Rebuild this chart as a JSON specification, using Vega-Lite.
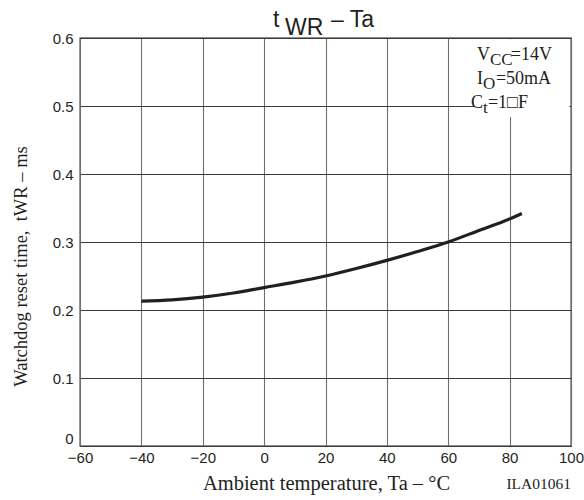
{
  "$schema": "https://vega.github.io/schema/vega-lite/v6.json",
  "autosize": {"type": "none"},
  "padding": {"left": 80, "top": 38, "right": 13, "bottom": 54},
  "width": 491,
  "height": 408,
  "background": "white",
  "config": {
    "view": {"stroke": "#231f20", "strokeWidth": 1.3},
    "axis": {
      "labelFont": "Liberation Sans",
      "labelFontSize": 15,
      "labelColor": "#231f20",
      "labelFlush": false,
      "ticks": false,
      "domain": false,
      "gridOpacity": 1,
      "gridWidth": 1.1,
      "titleFont": "Liberation Serif",
      "titleFontSize": 18.5,
      "titleFontWeight": "normal",
      "titleColor": "#231f20"
    }
  },
  "datasets": {
    "curve": [
      {"Ta": -40, "tWR": 0.213},
      {"Ta": -30, "tWR": 0.215},
      {"Ta": -20, "tWR": 0.219},
      {"Ta": -10, "tWR": 0.225},
      {"Ta": 0, "tWR": 0.233},
      {"Ta": 10, "tWR": 0.241},
      {"Ta": 20, "tWR": 0.25},
      {"Ta": 30, "tWR": 0.261},
      {"Ta": 40, "tWR": 0.273},
      {"Ta": 50, "tWR": 0.286},
      {"Ta": 60, "tWR": 0.3},
      {"Ta": 70, "tWR": 0.317},
      {"Ta": 80, "tWR": 0.334},
      {"Ta": 84, "tWR": 0.342}
    ],
    "annot": [
      {"x": 69.36, "y": 0.5676, "text": "V"},
      {"x": 80.4, "y": 0.5676, "text": "=14V"},
      {"x": 69.36, "y": 0.5324, "text": "I"},
      {"x": 75.55, "y": 0.5324, "text": "=50mA"},
      {"x": 67.4, "y": 0.4971, "text": "C"},
      {"x": 72.94, "y": 0.4971, "text": "=1□F"}
    ],
    "annotSub": [
      {"x": 73.6, "y": 0.5676, "text": "CC"},
      {"x": 71.31, "y": 0.5324, "text": "O"},
      {"x": 71.31, "y": 0.4971, "text": "t"}
    ],
    "title": [
      {"x": 2.89, "y": 0.6162, "text": "t"},
      {"x": 21.8, "y": 0.6162, "text": "– Ta"}
    ],
    "titleSub": [
      {"x": 6.8, "y": 0.6162, "text": "WR"}
    ]
  },
  "layer": [
    {
      "data": {"values": [{"x1": 68.4, "x2": 99.5, "y1": 0.484, "y2": 0.598}]},
      "mark": {"type": "rect", "fill": "white"},
      "encoding": {
        "x": {
          "field": "x1", "type": "quantitative",
          "scale": {"domain": [-60, 100], "nice": false, "zero": false},
          "axis": {
            "values": [-60, -40, -20, 0, 20, 40, 60, 80, 100],
            "grid": true,
            "gridColor": "#707070",
            "labelPadding": 4,
            "title": "Ambient temperature, Ta – °C",
            "titleFontSize": 20.5,
            "titleBaseline": "alphabetic",
            "titleY": 43,
            "titleX": 246
          }
        },
        "x2": {"field": "x2"},
        "y": {
          "field": "y1", "type": "quantitative",
          "scale": {"domain": [0, 0.6], "nice": false},
          "axis": {
            "values": [0, 0.1, 0.2, 0.3, 0.4, 0.5, 0.6],
            "format": "~g",
            "grid": true,
            "gridColor": "#3a3a3a",
            "labelPadding": 7,
            "labelBaseline": {"condition": {"test": "datum.value == 0", "value": "bottom"}, "value": "middle"},
            "title": "Watchdog reset time,\u00a0 tWR – ms",
            "titleX": -50,
            "titleY": 228
          }
        },
        "y2": {"field": "y2"}
      }
    },
    {
      "data": {"name": "curve"},
      "mark": {"type": "line", "color": "#231f20", "strokeWidth": 3.2, "interpolate": "monotone"},
      "encoding": {
        "x": {"field": "Ta", "type": "quantitative"},
        "y": {"field": "tWR", "type": "quantitative"}
      }
    },
    {
      "data": {"name": "annot"},
      "mark": {"type": "text", "font": "Liberation Serif", "fontSize": 18, "align": "left", "baseline": "alphabetic", "color": "#231f20"},
      "encoding": {
        "x": {"field": "x", "type": "quantitative"},
        "y": {"field": "y", "type": "quantitative"},
        "text": {"field": "text"}
      }
    },
    {
      "data": {"name": "annotSub"},
      "mark": {"type": "text", "font": "Liberation Serif", "fontSize": 17, "align": "left", "baseline": "alphabetic", "dy": 5, "color": "#231f20"},
      "encoding": {
        "x": {"field": "x", "type": "quantitative"},
        "y": {"field": "y", "type": "quantitative"},
        "text": {"field": "text"}
      }
    },
    {
      "data": {"name": "title"},
      "mark": {"type": "text", "font": "Liberation Sans", "fontSize": 23, "align": "left", "baseline": "alphabetic", "color": "#231f20"},
      "encoding": {
        "x": {"field": "x", "type": "quantitative"},
        "y": {"field": "y", "type": "quantitative"},
        "text": {"field": "text"}
      }
    },
    {
      "data": {"name": "titleSub"},
      "mark": {"type": "text", "font": "Liberation Sans", "fontSize": 23, "align": "left", "baseline": "alphabetic", "dy": 8, "color": "#231f20"},
      "encoding": {
        "x": {"field": "x", "type": "quantitative"},
        "y": {"field": "y", "type": "quantitative"},
        "text": {"field": "text"}
      }
    },
    {
      "data": {"values": [{"x": 100, "y": -0.0632, "text": "ILA01061"}]},
      "mark": {"type": "text", "font": "Liberation Serif", "fontSize": 15.5, "align": "right", "baseline": "alphabetic", "color": "#231f20"},
      "encoding": {
        "x": {"field": "x", "type": "quantitative"},
        "y": {"field": "y", "type": "quantitative"},
        "text": {"field": "text"}
      }
    }
  ]
}
